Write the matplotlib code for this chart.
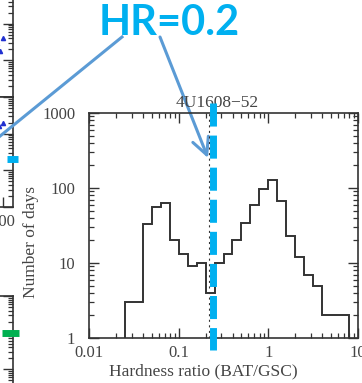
import numpy as np
import matplotlib
matplotlib.use("Agg")
import matplotlib.pyplot as plt
from matplotlib.lines import Line2D
from matplotlib.patches import FancyArrowPatch
from matplotlib.transforms import ScaledTranslation, blended_transform_factory

plt.rcParams['font.family'] = ['Liberation Serif', 'DejaVu Serif']
plt.rcParams['lines.scale_dashes'] = False

# hardness ratio histogram, bins of 0.1 dex
log_edges = np.round(np.arange(-1.6, 0.95, 0.1), 1)
n_days = [3, 3, 33, 55, 64, 20, 13, 9, 10, 4, 10, 13, 20, 34, 59, 96, 128, 68, 23,
          12, 7, 5, 2, 2, 2]
hr_cut = 0.2

xticks = [0.01, 0.1, 1, 10]
xtick_labels = ['0.01', '0.1', '1', '10']
yticks = [1, 10, 100, 1000]
ytick_labels = ['1', '10', '100', '1000']

# edges of the neighbouring light-curve panels
side_a_x = [97, 98, 99, 100]
side_a_y = [0.55, 0.3, 0.18, 0.4]
side_b_x = [97, 98.5, 100]
side_b_y = [2.5, 1.6, 2.0]
side_b_mark = 0.2
side_c_mark = 1.0

W, H = 362, 383
DPI = 100
ink = '#333333'
txt = '#444444'
cyan = '#00B0F0'
arrow_blue = '#5B9BD5'


def fx(px):
    return px / W


def fy(py):
    return 1 - py / H


fig = plt.figure(figsize=(W / DPI, H / DPI), dpi=DPI)

# main histogram panel
ax = fig.add_axes([fx(89), fy(338), 269 / W, 225 / H])
ax.set_zorder(3)
ax.patch.set_visible(False)
ax.stairs(n_days, 10 ** log_edges, baseline=1, color=ink, lw=1.4)
ax.set_xscale('log')
ax.set_yscale('log')
ax.set_xlim(0.01, 10)
ax.set_ylim(1, 1000)
ax.set_xticks(xticks, xtick_labels)
ax.set_yticks(yticks, ytick_labels)
ax.tick_params(which='both', direction='in', top=True, right=True, colors=ink,
               labelcolor=txt, labelsize=12)
ax.tick_params(which='major', length=7, width=1.0)
ax.tick_params(which='minor', length=3.6, width=0.9)
ax.tick_params(axis='y', pad=10)
ax.tick_params(axis='x', pad=5)
for s in ax.spines.values():
    s.set_color(ink)
    s.set_linewidth(1.2)

ax.text(0.478, 1.008, '4U1608\u221252', transform=ax.transAxes, ha='center',
        va='bottom', fontsize=12.5, color=txt)
fig.text(fx(31), fy(242), 'Number of days', rotation=90, ha='center',
         va='center', fontsize=12.5, color=txt)
fig.text(fx(203), fy(371), 'Hardness ratio (BAT/GSC)', ha='center',
         va='center', fontsize=12.5, color=txt)

# cut line at HR = 0.2 and the highlight next to it
xa = blended_transform_factory(ax.transData, ax.transAxes)
ax.plot([hr_cut, hr_cut], [0, 1],
        transform=xa + ScaledTranslation(0.03, 0, fig.dpi_scale_trans),
        color=ink, lw=0.8, ls=(0, (1.5, 2.5)))
ax.plot([hr_cut, hr_cut], [1.044, -0.053],
        transform=xa + ScaledTranslation(0.075, 0, fig.dpi_scale_trans),
        color=cyan, lw=5, dashes=(16.6, 6.5), clip_on=False, zorder=5)

# neighbouring panels, mostly cut off at the left
side = []
for top, bottom in [(-13, 97), (97, 207), (296, 406)]:
    sa = fig.add_axes([fx(13 - 300), fy(bottom), 300 / W, (bottom - top) / H])
    sa.set_yscale('log')
    sa.set_ylim(0.01, 10)
    sa.set_xlim(0, 103.4)
    sa.set_yticklabels([], minor=True)
    sa.tick_params(which='both', direction='in', left=False, right=True,
                   labelleft=False, colors=ink)
    sa.tick_params(which='major', length=7, width=1.0)
    sa.tick_params(which='minor', length=3.6, width=0.9)
    sa.set_yticks([0.01, 0.1, 1, 10], [])
    sa.set_xticks([])
    for s in sa.spines.values():
        s.set_color(ink)
        s.set_linewidth(1.2)
    side.append(sa)

side[0].plot(side_a_x, side_a_y, '^', color='#2030d0', ms=3, clip_on=False)
side[1].plot(side_b_x, side_b_y, '^', color='#2030d0', ms=3, clip_on=False)
side[1].set_xticks([100], ['100'])
side[1].tick_params(axis='x', direction='in', labelsize=12, labelcolor=txt, pad=5)
yb = blended_transform_factory(side[1].transAxes, side[1].transData)
side[1].plot([0.98, 1.017], [side_b_mark, side_b_mark], transform=yb,
             color=cyan, lw=5, solid_capstyle='butt', clip_on=False, zorder=5)
yc = blended_transform_factory(side[2].transAxes, side[2].transData)
side[2].plot([0.963, 1.02], [side_c_mark, side_c_mark], transform=yc,
             color='#00B050', lw=5, solid_capstyle='butt', clip_on=False, zorder=5)

# call-out label with its leader lines
fig.text(fx(99), fy(4), 'HR=0.2', ha='left', va='top', fontsize=30,
         fontweight='bold', family=['Lato', 'DejaVu Sans'], color=cyan)
fig.add_artist(Line2D([fx(122), fx(-6)], [fy(37), fy(141)], color=arrow_blue,
                      lw=2.2, transform=fig.transFigure, zorder=2))
fig.add_artist(FancyArrowPatch((fx(160), fy(37)), (fx(208), fy(158)),
                               transform=fig.transFigure,
                               arrowstyle='->,head_length=12,head_width=6',
                               color=arrow_blue, lw=2.2, shrinkA=0, shrinkB=0,
                               zorder=2))

fig.savefig('out.png', dpi=DPI)
